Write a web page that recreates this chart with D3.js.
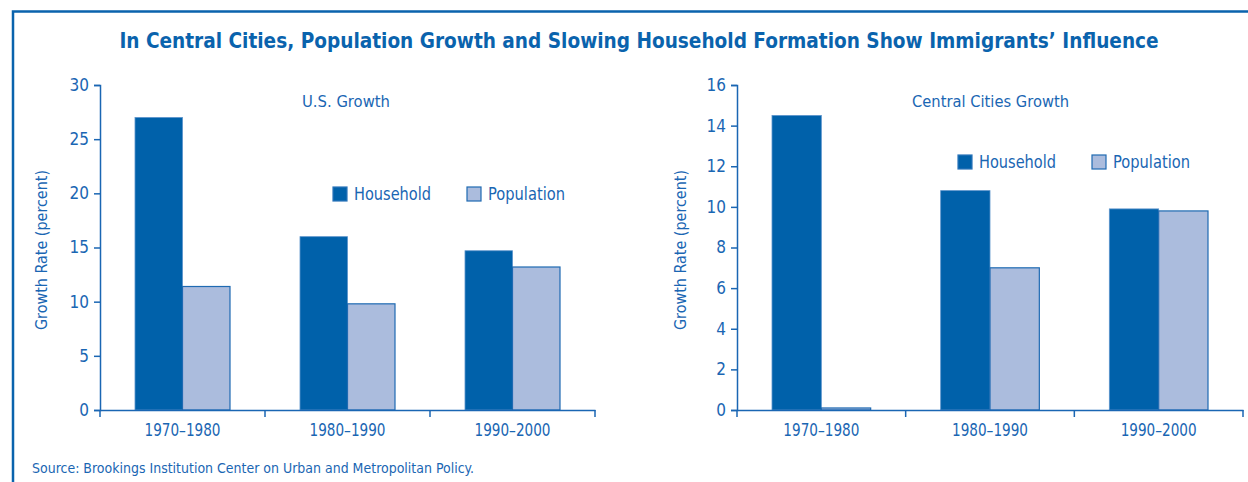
<!DOCTYPE html>
<html><head><meta charset="utf-8">
<script src="https://cdn.jsdelivr.net/npm/d3@7"></script>
<style>
html,body{margin:0;padding:0;background:#fff;}
svg{display:block;}
text{font-family:"Liberation Sans Narrow","DejaVu Sans Condensed","Roboto",sans-serif;fill:#1a66b3;}
</style></head>
<body>
<svg id="c" width="1248" height="482"></svg>
<script>
const categories = ["1970–1980", "1980–1990", "1990–2000"];
const seriesNames = ["Household", "Population"];
const usHousehold = [27.0, 16.0, 14.7];
const usPopulation = [11.4, 9.8, 13.2];
const ccHousehold = [14.5, 10.8, 9.9];
const ccPopulation = [0.1, 7.0, 9.8];
const usTicks = [0, 5, 10, 15, 20, 25, 30];
const ccTicks = [0, 2, 4, 6, 8, 10, 12, 14, 16];
const titleText = "In Central Cities, Population Growth and Slowing Household Formation Show Immigrants’ Influence";
const panelTitles = ["U.S. Growth", "Central Cities Growth"];
const yLabel = "Growth Rate (percent)";
const sourceText = "Source: Brookings Institution Center on Urban and Metropolitan Policy.";

const colHH = "#0061aa", colPop = "#abbcdd", colText = "#1a66b3", colAxis = "#1a66b3";
const svg = d3.select("#c");

function fitSize(sel, target){
  const w = sel.node().getComputedTextLength();
  const fs = parseFloat(sel.attr("font-size"));
  sel.attr("font-size", (fs*target/w).toFixed(2));
}

// frame
svg.append("path").attr("d","M13,490 L13,11.5 L1260,11.5").attr("fill","none")
  .attr("stroke","#0a63ad").attr("stroke-width",2.5);

const title = svg.append("text").attr("x",639).attr("y",48).attr("text-anchor","middle")
  .attr("font-size",22).attr("font-weight","bold").style("fill","#0a63ad").text(titleText);
fitSize(title, 1040);

svg.append("text").attr("x",32).attr("y",473).attr("font-size",14.5)
  .attr("textLength",442).attr("lengthAdjust","spacingAndGlyphs").text(sourceText);

function panel(cfg){
  const g = svg.append("g");
  const x = d3.scaleBand().domain(categories).range([cfg.x0,cfg.x1]).paddingInner(0).paddingOuter(0);
  const y = d3.scaleLinear().domain([0,cfg.max]).range([410,85]);
  const inner = d3.scaleBand().domain(seriesNames).range([cfg.pad, x.bandwidth()-cfg.pad]);
  const data = categories.map((c,i)=>({c, v:[cfg.hh[i], cfg.pop[i]]}));
  data.forEach(d=>{
    seriesNames.forEach((s,j)=>{
      g.append("rect").attr("x",x(d.c)+inner(s)).attr("y",y(d.v[j]))
        .attr("width",inner.bandwidth()).attr("height",y(0)-y(d.v[j]))
        .attr("fill", j===0?colHH:colPop)
        .attr("stroke", j===0?"#5a93cb":"#1f6ab2").attr("stroke-width", j===0?0.8:1.2);
    });
  });
  const ya = g.append("g").attr("transform",`translate(${cfg.x0},0)`)
    .call(d3.axisLeft(y).tickValues(cfg.ticks).tickSize(6).tickPadding(5));
  ya.select(".domain").attr("stroke",colAxis).attr("stroke-width",1.5);
  ya.selectAll(".tick line").attr("stroke",colAxis).attr("stroke-width",1.5);
  ya.selectAll(".tick text").attr("font-size",17).style("fill",colText)
    .style("font-family",'"Liberation Sans Narrow","DejaVu Sans Condensed",sans-serif');
  const xa = g.append("g").attr("transform",`translate(0,410)`)
    .call(d3.axisBottom(x).tickSize(0).tickPadding(14));
  xa.select(".domain").attr("stroke",colAxis).attr("stroke-width",1.5);
  xa.selectAll(".tick text").attr("font-size",17).style("fill",colText)
    .style("font-family",'"Liberation Sans Narrow","DejaVu Sans Condensed",sans-serif')
    .attr("textLength",76).attr("lengthAdjust","spacingAndGlyphs");
  const bounds = categories.map(c=>x(c)).concat([cfg.x1]);
  g.selectAll("line.bt").data(bounds).enter().append("line")
    .attr("x1",d=>d).attr("x2",d=>d).attr("y1",410).attr("y2",417)
    .attr("stroke",colAxis).attr("stroke-width",1.5);
  g.append("text").attr("transform",`translate(${cfg.labX},250) rotate(-90)`)
    .attr("text-anchor","middle").attr("font-size",16.5)
    .attr("textLength",160).attr("lengthAdjust","spacingAndGlyphs").text(yLabel);
  g.append("text").attr("x",cfg.tx).attr("y",107).attr("font-size",16.5)
    .attr("textLength",cfg.tw).attr("lengthAdjust","spacingAndGlyphs").text(cfg.title);
  seriesNames.forEach((s,j)=>{
    const lx = cfg.lx[j];
    g.append("rect").attr("x",lx).attr("y",cfg.ly-7).attr("width",14).attr("height",14)
      .attr("fill", j===0?colHH:colPop).attr("stroke", j===0?"#2a74ba":"#1f6ab2").attr("stroke-width",1.2);
    g.append("text").attr("x",lx+21).attr("y",cfg.ly+6).attr("font-size",17)
      .attr("textLength",77).attr("lengthAdjust","spacingAndGlyphs").text(s);
  });
}

panel({x0:100,x1:595,max:30,ticks:usTicks,hh:usHousehold,pop:usPopulation,pad:35,
  labX:47,tx:302,tw:88,title:panelTitles[0],lx:[333,467],ly:194});
panel({x0:737,x1:1243,max:16,ticks:ccTicks,hh:ccHousehold,pop:ccPopulation,pad:35,
  labX:686,tx:912,tw:157,title:panelTitles[1],lx:[958,1092],ly:162});
</script>
</body></html>
